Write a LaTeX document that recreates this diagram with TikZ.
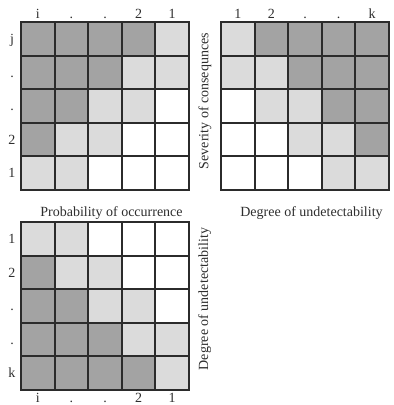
\documentclass[tikz,border=0pt]{standalone}
\usepackage{fontspec}
\setmainfont{Liberation Serif}
\usetikzlibrary{positioning}
\definecolor{dk}{HTML}{A3A3A3}
\definecolor{lt}{HTML}{DBDBDB}
\definecolor{wh}{HTML}{FFFFFF}
\definecolor{gridline}{HTML}{2B2B2B}
\definecolor{inkgray}{HTML}{2E2E2E}

\tikzset{
  cell/.style={draw=gridline, line width=2pt, fill=#1, minimum size=33.6pt, inner sep=0pt},
  tick/.style={font=\fontsize{14}{16}\selectfont, text=inkgray, inner sep=0pt, text height=9.5pt, text depth=0pt},
  axis/.style={font=\fontsize{14}{16}\selectfont, text=inkgray, inner sep=0pt}
}

\begin{document}
\begin{tikzpicture}[x=1pt, y=-1pt]
  \useasboundingbox (0,0) rectangle (394,405);

  % probability vs severity
  \foreach \fills [count=\r] in {{dk,dk,dk,dk,lt},{dk,dk,dk,lt,lt},{dk,dk,lt,lt,wh},{dk,lt,lt,wh,wh},{lt,lt,wh,wh,wh}}
    \foreach \f [count=\c] in \fills
      \node[cell=\f] (p1-\r-\c) at ({21+33.6*(\c-0.5)}, {22+33.6*(\r-0.5)}) {};
  \foreach \t [count=\c] in {i,.,.,2,1}
    \node[tick, anchor=base] (p1-col-\c) at ([yshift=2.5pt]p1-1-\c.north) {\t};
  \foreach \t [count=\r] in {j,.,.,2,1}
    \node[tick] (p1-row-\r) at ([xshift=-8pt]p1-\r-1.west) {\t};
  \node[axis, anchor=base] (p1-title) at ([xshift=6.5pt, yshift=-25pt]p1-5-3.south) {Probability of occurrence};

  % undetectability vs severity
  \foreach \fills [count=\r] in {{lt,dk,dk,dk,dk},{lt,lt,dk,dk,dk},{wh,lt,lt,dk,dk},{wh,wh,lt,lt,dk},{wh,wh,wh,lt,lt}}
    \foreach \f [count=\c] in \fills
      \node[cell=\f] (p2-\r-\c) at ({221+33.6*(\c-0.5)}, {22+33.6*(\r-0.5)}) {};
  \foreach \t [count=\c] in {1,2,.,.,k}
    \node[tick, anchor=base] (p2-col-\c) at ([yshift=2.5pt]p2-1-\c.north) {\t};
  \node[axis, anchor=base, rotate=90] (p2-side) at ([xshift=-11.7pt, yshift=5pt]p2-3-1.west) {Severity of consequnces};
  \node[axis, anchor=base] (p2-title) at ([xshift=6.5pt, yshift=-25pt]p2-5-3.south) {Degree of undetectability};

  % probability vs undetectability
  \foreach \fills [count=\r] in {{lt,lt,wh,wh,wh},{dk,lt,lt,wh,wh},{dk,dk,lt,lt,wh},{dk,dk,dk,lt,lt},{dk,dk,dk,dk,lt}}
    \foreach \f [count=\c] in \fills
      \node[cell=\f] (p3-\r-\c) at ({21+33.6*(\c-0.5)}, {222+33.6*(\r-0.5)}) {};
  \foreach \t [count=\r] in {1,2,.,.,k}
    \node[tick] (p3-row-\r) at ([xshift=-8pt]p3-\r-1.west) {\t};
  \foreach \t [count=\c] in {i,.,.,2,1}
    \node[tick, anchor=base] (p3-col-\c) at ([yshift=-11pt]p3-5-\c.south) {\t};
  \node[axis, anchor=base, rotate=90] (p3-side) at ([xshift=18pt, yshift=7pt]p3-3-5.east) {Degree of undetectability};
\end{tikzpicture}
\end{document}
